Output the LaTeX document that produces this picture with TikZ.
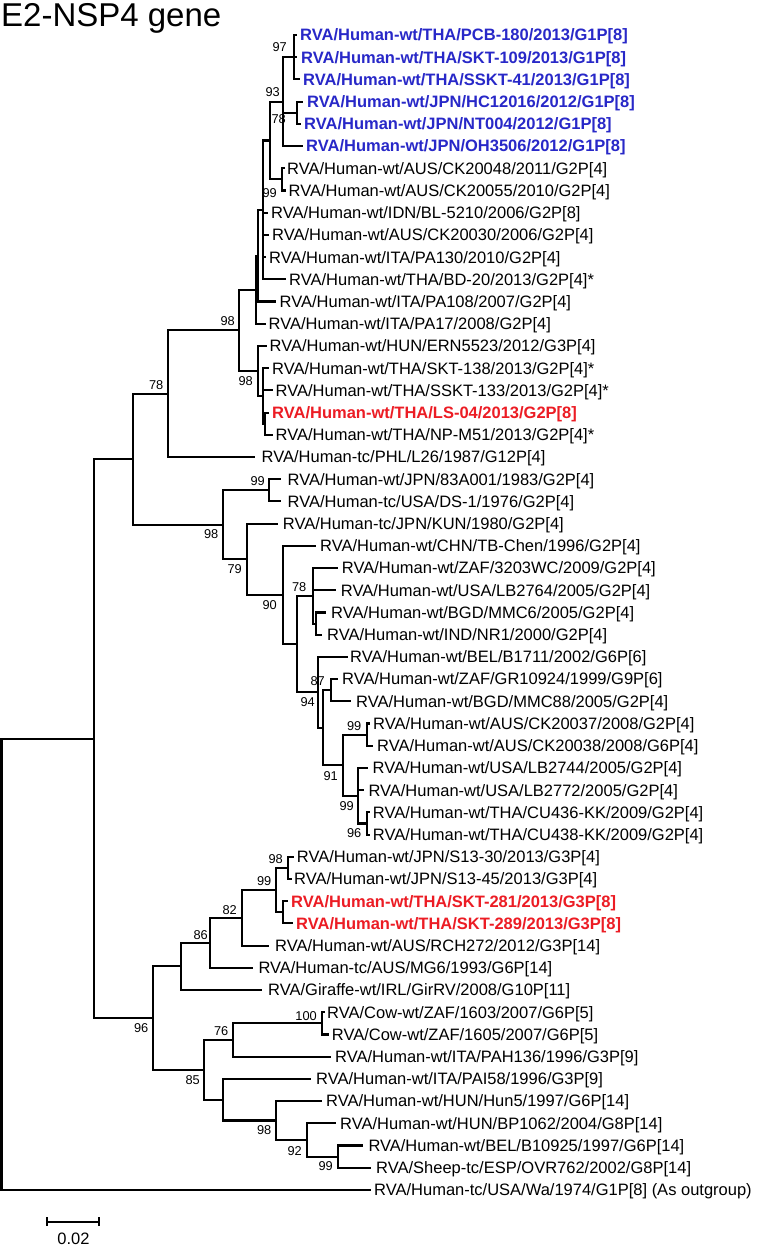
\documentclass[tikz,border=0pt]{standalone}
\usepackage{fontspec}
\setmainfont{Liberation Sans}
\definecolor{tblue}{RGB}{40,40,200}
\definecolor{tred}{RGB}{236,28,36}
\tikzset{
  branch/.style={line width=2.1pt, line join=miter, line cap=rect},
  leaflbl/.style={anchor=base west, inner sep=0pt, yshift=-5.9pt, font=\fontsize{16.5}{18}\selectfont},
  bluelbl/.style={text=tblue, font=\fontsize{16.5}{18}\selectfont\bfseries},
  redlbl/.style={text=tred, font=\fontsize{16.5}{18}\selectfont\bfseries},
  bslbl/.style={anchor=east, inner sep=0pt, font=\fontsize{12.8}{14}\selectfont}
}
% leaf: name, parent, row, branch end x, label x, style, text
\newcommand\lf[7]{%
  \coordinate (#1e) at (#4,{35+22.21*(#3-1)});
  \draw[branch] (#2) |- (#1e);
  \node[leaflbl,#6] (#1) at (#5,{35+22.21*(#3-1)}) {#7};
}
\newcommand\bs[4]{\node[bslbl] (#1) at (#2,#3) {#4};}
\begin{document}
\begin{tikzpicture}[x=1pt,y=-1pt]
\useasboundingbox (0,0) rectangle (760,1245);
\fill[white] (0,0) rectangle (760,1245);
\node[anchor=base west, inner sep=0pt, font=\fontsize{33}{36}\selectfont] (title) at (1,26) {E2-NSP4 gene};

% internal nodes
\coordinate (n97) at (294,57.2);
\coordinate (pJPN) at (297,112.7);
\coordinate (n93) at (283,101.65);
\coordinate (pCK) at (281.7,179.4);
\coordinate (W) at (270,140.5);
\coordinate (C1) at (263.3,209.9);
\coordinate (V) at (258.3,255.7);
\coordinate (U) at (256,289.7);
\coordinate (Y) at (265,423.7);
\coordinate (X) at (263.3,396.0);
\coordinate (L98b) at (257.7,370.95);
\coordinate (D98) at (239.3,330.3);
\coordinate (n78) at (168.3,393.65);
\coordinate (p99) at (269.3,490.3);
\coordinate (pZ) at (315.7,623.6);
\coordinate (n78b) at (312.7,595.8);
\coordinate (p87) at (331,690.2);
\coordinate (p99a) at (366.7,734.6);
\coordinate (p96) at (366.7,823.5);
\coordinate (n99b) at (358.3,795.7);
\coordinate (n91) at (343.3,765.15);
\coordinate (L) at (322.7,727.7);
\coordinate (n94) at (318.3,692.3);
\coordinate (E) at (297.3,644.05);
\coordinate (n90) at (282.7,594.9);
\coordinate (n79) at (246.7,559.25);
\coordinate (n98c) at (223.3,524.8);
\coordinate (B) at (132.7,459.2);
\coordinate (p98) at (288.3,867.9);
\coordinate (pR) at (283.3,912.3);
\coordinate (n99c) at (276,890.1);
\coordinate (n82) at (241.7,917.85);
\coordinate (n86) at (210,942.8);
\coordinate (Q) at (181,966.4);
\coordinate (p100) at (321.7,1023.35);
\coordinate (n76) at (232.7,1040.0);
\coordinate (p99d) at (338.3,1156.6);
\coordinate (n92) at (306.7,1139.95);
\coordinate (n98e) at (276,1120.5);
\coordinate (n98d) at (223.3,1099.7);
\coordinate (n85) at (204.3,1069.85);
\coordinate (n96) at (153,1018.1);
\coordinate (A) at (94.3,738.65);
\coordinate (root) at (1.5,964.3);

% internal edges
\draw[branch] (root) |- (A);
\draw[branch] (A) |- (B);
\draw[branch] (A) |- (n96);
\draw[branch] (B) |- (n78);
\draw[branch] (B) |- (n98c);
\draw[branch] (n78) |- (D98);
\draw[branch] (D98) |- (U);
\draw[branch] (D98) |- (L98b);
\draw[branch] (U) |- (V);
\draw[branch] (V) |- (C1);
\draw[branch] (C1) |- (W);
\draw[branch] (W) |- (n93);
\draw[branch] (W) |- (pCK);
\draw[branch] (n93) |- (n97);
\draw[branch] (n93) |- (pJPN);
\draw[branch] (L98b) |- (X);
\draw[branch] (X) |- (Y);
\draw[branch] (n98c) |- (p99);
\draw[branch] (n98c) |- (n79);
\draw[branch] (n79) |- (n90);
\draw[branch] (n90) |- (E);
\draw[branch] (E) |- (n78b);
\draw[branch] (E) |- (n94);
\draw[branch] (n78b) |- (pZ);
\draw[branch] (n94) |- (L);
\draw[branch] (L) |- (p87);
\draw[branch] (L) |- (n91);
\draw[branch] (n91) |- (p99a);
\draw[branch] (n91) |- (n99b);
\draw[branch] (n99b) |- (p96);
\draw[branch] (n96) |- (Q);
\draw[branch] (n96) |- (n85);
\draw[branch] (Q) |- (n86);
\draw[branch] (n86) |- (n82);
\draw[branch] (n82) |- (n99c);
\draw[branch] (n99c) |- (p98);
\draw[branch] (n99c) |- (pR);
\draw[branch] (n85) |- (n76);
\draw[branch] (n85) |- (n98d);
\draw[branch] (n76) |- (p100);
\draw[branch] (n98d) |- (n98e);
\draw[branch] (n98e) |- (n92);
\draw[branch] (n92) |- (p99d);

% leaves
\lf{t1}{n97}{1}{296}{300}{bluelbl}{RVA/Human-wt/THA/PCB-180/2013/G1P[8]}
\lf{t2}{n97}{2}{296}{301}{bluelbl}{RVA/Human-wt/THA/SKT-109/2013/G1P[8]}
\lf{t3}{n97}{3}{299}{303}{bluelbl}{RVA/Human-wt/THA/SSKT-41/2013/G1P[8]}
\lf{t4}{pJPN}{4}{302}{307}{bluelbl}{RVA/Human-wt/JPN/HC12016/2012/G1P[8]}
\lf{t5}{pJPN}{5}{300}{304}{bluelbl}{RVA/Human-wt/JPN/NT004/2012/G1P[8]}
\lf{t6}{n93}{6}{302}{306}{bluelbl}{RVA/Human-wt/JPN/OH3506/2012/G1P[8]}
\lf{t7}{pCK}{7}{283.5}{287}{}{RVA/Human-wt/AUS/CK20048/2011/G2P[4]}
\lf{t8}{pCK}{8}{284.5}{288.5}{}{RVA/Human-wt/AUS/CK20055/2010/G2P[4]}
\lf{t9}{C1}{9}{267}{271}{}{RVA/Human-wt/IDN/BL-5210/2006/G2P[8]}
\lf{t10}{C1}{10}{268}{272}{}{RVA/Human-wt/AUS/CK20030/2006/G2P[4]}
\lf{t11}{C1}{11}{265}{269}{}{RVA/Human-wt/ITA/PA130/2010/G2P[4]}
\lf{t12}{C1}{12}{285}{289}{}{RVA/Human-wt/THA/BD-20/2013/G2P[4]*}
\lf{t13}{V}{13}{275}{279.5}{}{RVA/Human-wt/ITA/PA108/2007/G2P[4]}
\lf{t14}{U}{14}{265}{268.5}{}{RVA/Human-wt/ITA/PA17/2008/G2P[4]}
\lf{t15}{L98b}{15}{265.5}{269.5}{}{RVA/Human-wt/HUN/ERN5523/2012/G3P[4]}
\lf{t16}{X}{16}{268}{272}{}{RVA/Human-wt/THA/SKT-138/2013/G2P[4]*}
\lf{t17}{X}{17}{271.5}{275.5}{}{RVA/Human-wt/THA/SSKT-133/2013/G2P[4]*}
\lf{t18}{Y}{18}{268}{272}{redlbl}{RVA/Human-wt/THA/LS-04/2013/G2P[8]}
\lf{t19}{Y}{19}{271.5}{275.5}{}{RVA/Human-wt/THA/NP-M51/2013/G2P[4]*}
\lf{t20}{n78}{20}{254}{261.5}{}{RVA/Human-tc/PHL/L26/1987/G12P[4]}
\lf{t21}{p99}{21}{280}{287.5}{}{RVA/Human-wt/JPN/83A001/1983/G2P[4]}
\lf{t22}{p99}{22}{280}{287.5}{}{RVA/Human-tc/USA/DS-1/1976/G2P[4]}
\lf{t23}{n79}{23}{277}{282.7}{}{RVA/Human-tc/JPN/KUN/1980/G2P[4]}
\lf{t24}{n90}{24}{315}{320}{}{RVA/Human-wt/CHN/TB-Chen/1996/G2P[4]}
\lf{t25}{n78b}{25}{337.3}{341.7}{}{RVA/Human-wt/ZAF/3203WC/2009/G2P[4]}
\lf{t26}{n78b}{26}{335}{340.7}{}{RVA/Human-wt/USA/LB2764/2005/G2P[4]}
\lf{t27}{pZ}{27}{325}{331}{}{RVA/Human-wt/BGD/MMC6/2005/G2P[4]}
\lf{t28}{pZ}{28}{321}{327}{}{RVA/Human-wt/IND/NR1/2000/G2P[4]}
\lf{t29}{n94}{29}{346.7}{350}{}{RVA/Human-wt/BEL/B1711/2002/G6P[6]}
\lf{t30}{p87}{30}{337}{342}{}{RVA/Human-wt/ZAF/GR10924/1999/G9P[6]}
\lf{t31}{p87}{31}{350}{356}{}{RVA/Human-wt/BGD/MMC88/2005/G2P[4]}
\lf{t32}{p99a}{32}{369}{373}{}{RVA/Human-wt/AUS/CK20037/2008/G2P[4]}
\lf{t33}{p99a}{33}{372}{377}{}{RVA/Human-wt/AUS/CK20038/2008/G6P[4]}
\lf{t34}{n99b}{34}{367}{372.5}{}{RVA/Human-wt/USA/LB2744/2005/G2P[4]}
\lf{t35}{n99b}{35}{363.3}{368.3}{}{RVA/Human-wt/USA/LB2772/2005/G2P[4]}
\lf{t36}{p96}{36}{369}{372.7}{}{RVA/Human-wt/THA/CU436-KK/2009/G2P[4]}
\lf{t37}{p96}{37}{369}{372.7}{}{RVA/Human-wt/THA/CU438-KK/2009/G2P[4]}
\lf{t38}{p98}{38}{293}{296.7}{}{RVA/Human-wt/JPN/S13-30/2013/G3P[4]}
\lf{t39}{p98}{39}{291}{294}{}{RVA/Human-wt/JPN/S13-45/2013/G3P[4]}
\lf{t40}{pR}{40}{287}{291}{redlbl}{RVA/Human-wt/THA/SKT-281/2013/G3P[8]}
\lf{t41}{pR}{41}{292}{296}{redlbl}{RVA/Human-wt/THA/SKT-289/2013/G3P[8]}
\lf{t42}{n82}{42}{268.3}{275}{}{RVA/Human-wt/AUS/RCH272/2012/G3P[14]}
\lf{t43}{n86}{43}{252}{258.3}{}{RVA/Human-tc/AUS/MG6/1993/G6P[14]}
\lf{t44}{Q}{44}{261}{268}{}{RVA/Giraffe-wt/IRL/GirRV/2008/G10P[11]}
\lf{t45}{p100}{45}{323.5}{327}{}{RVA/Cow-wt/ZAF/1603/2007/G6P[5]}
\lf{t46}{p100}{46}{327.5}{331.7}{}{RVA/Cow-wt/ZAF/1605/2007/G6P[5]}
\lf{t47}{n76}{47}{330}{335}{}{RVA/Human-wt/ITA/PAH136/1996/G3P[9]}
\lf{t48}{n98d}{48}{310}{316}{}{RVA/Human-wt/ITA/PAI58/1996/G3P[9]}
\lf{t49}{n98e}{49}{320.7}{326}{}{RVA/Human-wt/HUN/Hun5/1997/G6P[14]}
\lf{t50}{n92}{50}{335}{340}{}{RVA/Human-wt/HUN/BP1062/2004/G8P[14]}
\lf{t51}{p99d}{51}{361.7}{368.3}{}{RVA/Human-wt/BEL/B10925/1997/G6P[14]}
\lf{t52}{p99d}{52}{370}{376}{}{RVA/Sheep-tc/ESP/OVR762/2002/G8P[14]}
\lf{t53}{root}{53}{370}{374}{}{RVA/Human-tc/USA/Wa/1974/G1P[8] (As outgroup)}

% bootstrap values
\bs{b97}{287}{47}{97}
\bs{b93}{280}{92}{93}
\bs{b78a}{286}{119}{78}
\bs{b99a}{277}{193}{99}
\bs{b98a}{235}{321}{98}
\bs{b78b}{163.5}{385}{78}
\bs{b98b}{253}{381.5}{98}
\bs{b99b}{265}{481}{99}
\bs{b98c}{218.5}{534}{98}
\bs{b79}{242}{569.5}{79}
\bs{b90}{277}{605}{90}
\bs{b78c}{306.5}{587.5}{78}
\bs{b87}{325}{681.5}{87}
\bs{b94}{315}{702.5}{94}
\bs{b99c}{361.5}{726.5}{99}
\bs{b91}{338}{776}{91}
\bs{b99d}{354}{806}{99}
\bs{b96a}{361.5}{833}{96}
\bs{b98d}{283}{859}{98}
\bs{b99e}{271.5}{881.5}{99}
\bs{b82}{237}{910}{82}
\bs{b86}{208}{935}{86}
\bs{b96b}{148.5}{1028}{96}
\bs{b100}{317}{1016}{100}
\bs{b76}{228.5}{1031.5}{76}
\bs{b85}{200}{1080}{85}
\bs{b98e}{271.5}{1130}{98}
\bs{b92}{302}{1151.5}{92}
\bs{b99f}{333}{1166.5}{99}

% scale bar
\coordinate (sbL) at (46.7,1221.7);
\coordinate (sbR) at (99,1221.7);
\draw[line width=2pt] (sbL) -- (sbR);
\draw[line width=1.7pt] ([yshift=4.5pt]sbL) -- ([yshift=-4.5pt]sbL);
\draw[line width=1.7pt] ([yshift=4.5pt]sbR) -- ([yshift=-4.5pt]sbR);
\node[anchor=base, inner sep=0pt, font=\fontsize{16.5}{18}\selectfont] (sblbl) at (73.5,1244) {0.02};
\end{tikzpicture}
\end{document}
